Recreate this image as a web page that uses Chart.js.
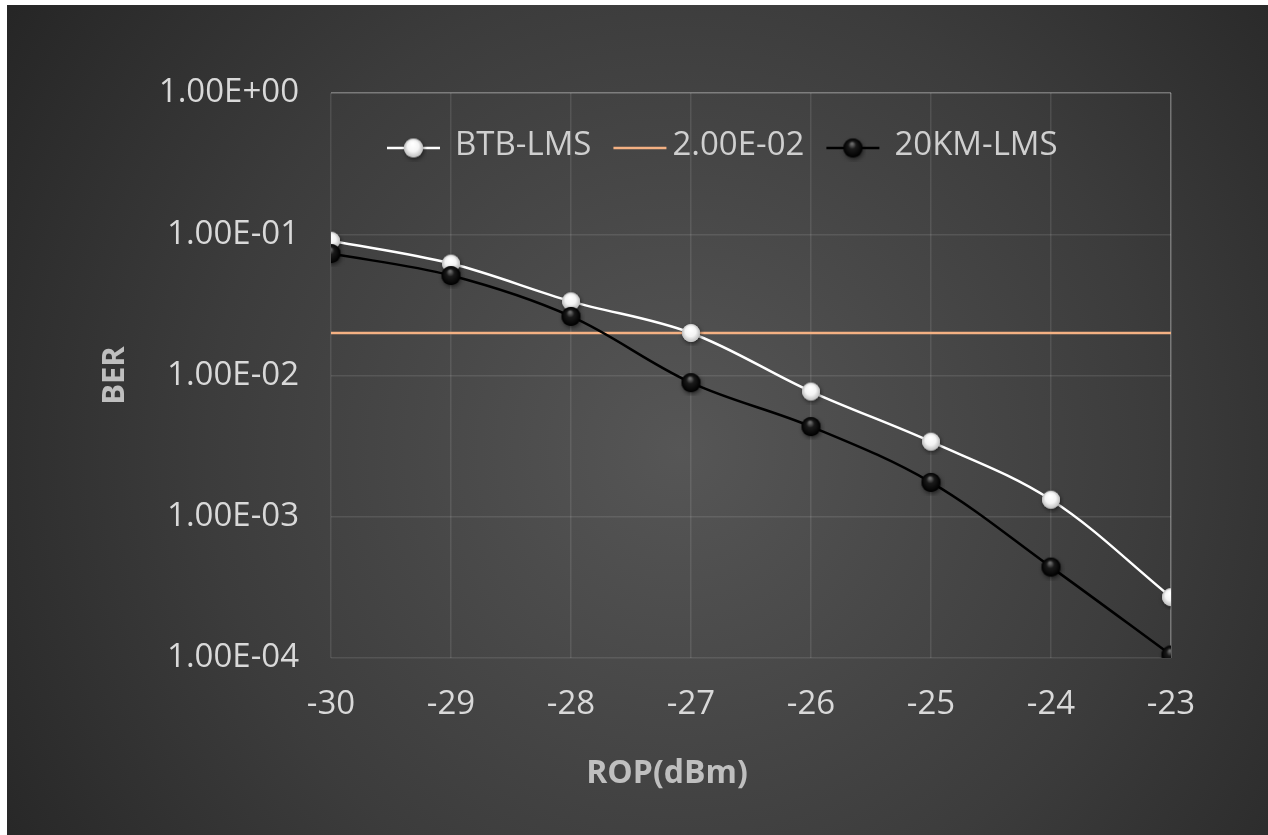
<!DOCTYPE html>
<html>
<head>
<meta charset="utf-8">
<script src="https://cdn.jsdelivr.net/npm/chart.js@4/dist/chart.umd.min.js"></script>
<style>
  html, body { margin: 0; padding: 0; background: #ffffff; }
  #wrap { position: relative; width: 1268px; height: 835px; }
</style>
</head>
<body>
<div id="wrap"><canvas id="c" width="1268" height="835"></canvas></div>
<script>
// Received optical power (dBm)
const rop = [-30, -29, -28, -27, -26, -25, -24, -23];
// Bit error rate, back-to-back
const btbLms = [9.0e-2, 6.2e-2, 3.35e-2, 2.0e-2, 7.7e-3, 3.4e-3, 1.32e-3, 2.7e-4];
// Bit error rate, after 20 km of fibre
const km20Lms = [7.3e-2, 5.1e-2, 2.62e-2, 8.9e-3, 4.35e-3, 1.75e-3, 4.4e-4, 1.05e-4];
// Hard-decision FEC threshold
const fecLimit = 2.0e-2;
// Axis ticks
const yTicks = [1e-4, 1e-3, 1e-2, 1e-1, 1];
const xTicks = [-30, -29, -28, -27, -26, -25, -24, -23];

const FONT = '"Open Sans", "Noto Sans", "DejaVu Sans", sans-serif';

// shaded marker ball
function makeBall(light, r) {
  const pad = 4;
  const s = 2 * (r + pad);
  const cv = document.createElement('canvas');
  cv.width = s; cv.height = s;
  const g = cv.getContext('2d');
  const c = s / 2;
  g.save();
  g.shadowColor = 'rgba(0,0,0,0.55)';
  g.shadowBlur = 4;
  g.shadowOffsetX = 1;
  g.shadowOffsetY = 2;
  g.beginPath(); g.arc(c, c, r, 0, Math.PI * 2);
  g.fillStyle = light ? '#d8d8d8' : '#050505';
  g.fill();
  g.restore();
  const grad = g.createRadialGradient(c - r * 0.1, c - r * 0.45, r * 0.1, c, c, r);
  if (light) {
    grad.addColorStop(0, '#ffffff');
    grad.addColorStop(0.55, '#f4f4f4');
    grad.addColorStop(1, '#bdbdbd');
  } else {
    grad.addColorStop(0, '#6a6a6a');
    grad.addColorStop(0.35, '#1a1a1a');
    grad.addColorStop(1, '#000000');
  }
  g.beginPath(); g.arc(c, c, r, 0, Math.PI * 2);
  g.fillStyle = grad; g.fill();
  return cv;
}

const whiteBall = makeBall(true, 9);
const blackBall = makeBall(false, 9.5);
const legendBalls = [makeBall(true, 9.5), null, makeBall(false, 9.5)];

const backdrop = {
  id: 'backdrop',
  beforeDraw(chart) {
    const ctx = chart.ctx;
    const W = chart.width, H = chart.height;
    ctx.save();
    ctx.fillStyle = '#ffffff';
    ctx.fillRect(0, 0, W, H);
    const grad = ctx.createRadialGradient(680, 450, 0, 680, 450, 860);
    grad.addColorStop(0, '#565656');
    grad.addColorStop(0.55, '#3c3c3c');
    grad.addColorStop(1, '#222222');
    ctx.fillStyle = grad;
    ctx.fillRect(7, 5, W - 7, H - 5);
    ctx.restore();
  }
};

// horizontal legend row inside the plot, line + marker glyphs
const inlineLegend = {
  id: 'inlineLegend',
  afterDraw(chart, args, opts) {
    const ctx = chart.ctx;
    ctx.save();
    ctx.font = opts.size + 'px ' + FONT;
    ctx.textBaseline = 'middle';
    let x = opts.startX;
    const y = opts.y;
    chart.data.datasets.forEach((ds, i) => {
      const ball = legendBalls[i];
      ctx.strokeStyle = ds.borderColor;
      ctx.lineWidth = 2.5;
      ctx.beginPath(); ctx.moveTo(x, y + 2); ctx.lineTo(x + opts.iconW, y + 2); ctx.stroke();
      if (ball) ctx.drawImage(ball, x + opts.iconW / 2 - ball.width / 2, y + 2 - ball.height / 2);
      x += opts.iconW + opts.iconGaps[i];
      ctx.fillStyle = opts.color;
      ctx.fillText(ds.label, x, y);
      x += ctx.measureText(ds.label).width + opts.itemGap;
    });
    ctx.restore();
  }
};

// x-axis title, placed below the tick row
const xTitle = {
  id: 'xTitle',
  afterDraw(chart, args, opts) {
    const t = chart.options.scales.x.title;
    const ctx = chart.ctx;
    ctx.save();
    ctx.font = 'bold ' + t.font.size + 'px ' + FONT;
    ctx.fillStyle = t.color;
    ctx.textAlign = 'center';
    ctx.textBaseline = 'middle';
    ctx.fillText(t.text, opts.x, opts.y);
    ctx.restore();
  }
};

const gridColor = (edgeValue) => (ctx) =>
  (ctx.tick && ctx.tick.value === edgeValue) ? 'rgba(255,255,255,0.32)' : 'rgba(255,255,255,0.10)';

new Chart(document.getElementById('c'), {
  type: 'line',
  data: {
    datasets: [
      {
        label: 'BTB-LMS',
        data: rop.map((x, i) => ({ x, y: btbLms[i] })),
        borderColor: '#ffffff',
        borderWidth: 2.5,
        tension: 0.35,
        pointStyle: whiteBall,
        pointRadius: 9,
        order: 2
      },
      {
        label: '2.00E-02',
        data: [{ x: rop[0], y: fecLimit }, { x: rop[rop.length - 1], y: fecLimit }],
        borderColor: '#f4b183',
        borderWidth: 2.5,
        pointRadius: 0,
        order: 3
      },
      {
        label: '20KM-LMS',
        data: rop.map((x, i) => ({ x, y: km20Lms[i] })),
        borderColor: '#000000',
        borderWidth: 2.5,
        tension: 0.35,
        pointStyle: blackBall,
        pointRadius: 9,
        order: 1
      }
    ]
  },
  options: {
    responsive: false,
    animation: false,
    layout: { padding: { top: 93, right: 97, bottom: 38, left: 90 } },
    plugins: {
      tooltip: { enabled: false },
      legend: { display: false },
      inlineLegend: {
        startX: 387, y: 146, size: 33,
        iconW: 53, iconGaps: [15, 6, 15], itemGap: 22, color: '#cfcfcf'
      },
      xTitle: { x: 667, y: 774 }
    },
    scales: {
      x: {
        type: 'linear',
        min: -30, max: -23,
        afterBuildTicks(scale) { scale.ticks = xTicks.map(v => ({ value: v })); },
        afterFit(scale) { scale.height = 835 - 658 - 38; },
        grid: { color: gridColor(-23), lineWidth: 1.5, drawTicks: false },
        border: { display: false },
        ticks: { color: '#d9d9d9', font: { family: FONT, size: 33 }, padding: 27 },
        title: {
          display: false, text: 'ROP(dBm)', color: '#bfbfbf',
          font: { family: FONT, size: 32, weight: 'bold' }
        }
      },
      y: {
        type: 'logarithmic',
        min: 1e-4, max: 1,
        afterBuildTicks(scale) { scale.ticks = yTicks.map(v => ({ value: v })); },
        afterFit(scale) { scale.width = 331 - 90; },
        grid: { color: gridColor(1), lineWidth: 1.5, drawTicks: false },
        border: { display: false },
        ticks: {
          color: '#d9d9d9', font: { family: FONT, size: 33 }, padding: 32,
          callback(v) {
            const [m, e] = Number(v).toExponential(2).split('e');
            const n = parseInt(e, 10);
            return m + 'E' + (n < 0 ? '-' : '+') + String(Math.abs(n)).padStart(2, '0');
          }
        },
        title: {
          display: true, text: 'BER', color: '#bfbfbf',
          font: { family: FONT, size: 31, weight: 'bold' },
          padding: { top: 7, bottom: 0 }
        }
      }
    }
  },
  plugins: [backdrop, inlineLegend, xTitle]
});
</script>
</body>
</html>
